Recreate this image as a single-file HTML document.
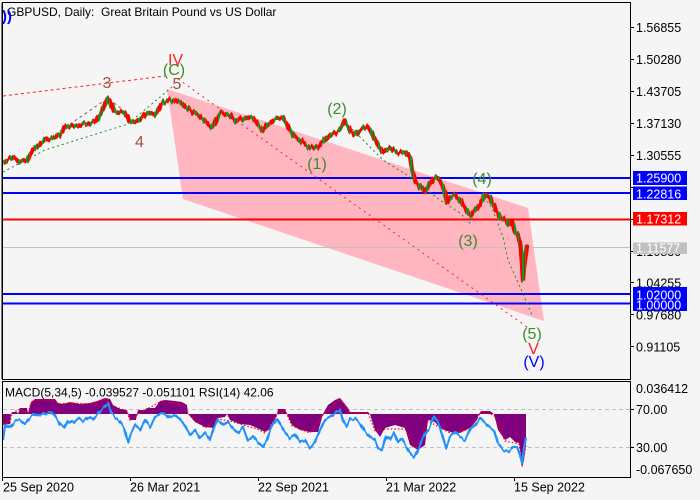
<!DOCTYPE html>
<html><head><meta charset="utf-8">
<style>
html,body{margin:0;padding:0;background:#f5f5f5;}
svg{display:block;}
text{font-family:"Liberation Sans",sans-serif;}
</style></head>
<body>
<svg width="700" height="500" viewBox="0 0 700 500">
<defs>
<pattern id="cp" patternUnits="userSpaceOnUse" x="0" y="0" width="16" height="500">
<rect x="0" y="0" width="2" height="500" fill="#ff0000"/>
<rect x="2" y="0" width="3" height="500" fill="#1f8f1f"/>
<rect x="5" y="0" width="1" height="500" fill="#ff0000"/>
<rect x="6" y="0" width="1" height="500" fill="#1f8f1f"/>
<rect x="7" y="0" width="3" height="500" fill="#ff0000"/>
<rect x="10" y="0" width="2" height="500" fill="#1f8f1f"/>
<rect x="12" y="0" width="1" height="500" fill="#ff0000"/>
<rect x="13" y="0" width="1" height="500" fill="#1f8f1f"/>
<rect x="14" y="0" width="2" height="500" fill="#ff0000"/>
</pattern>
<filter id="jit" filterUnits="userSpaceOnUse" x="0" y="0" width="700" height="500" color-interpolation-filters="sRGB">
<feTurbulence type="fractalNoise" baseFrequency="0.45 0.02" numOctaves="1" seed="3" result="t"/>
<feColorMatrix in="t" type="matrix" values="0 0 0 0 0.5  1 0 0 0 0  0 0 0 0 0  0 0 0 0 1" result="m"/>
<feDisplacementMap in="SourceGraphic" in2="m" scale="8" xChannelSelector="R" yChannelSelector="G"/>
</filter>
<filter id="jit2" filterUnits="userSpaceOnUse" x="0" y="380" width="700" height="100" color-interpolation-filters="sRGB">
<feTurbulence type="fractalNoise" baseFrequency="0.35 0.02" numOctaves="1" seed="7" result="t"/>
<feColorMatrix in="t" type="matrix" values="0 0 0 0 0.5  1 0 0 0 0  0 0 0 0 0  0 0 0 0 1" result="m"/>
<feDisplacementMap in="SourceGraphic" in2="m" scale="6" xChannelSelector="R" yChannelSelector="G"/>
</filter>
</defs>
<rect x="0" y="0" width="700" height="500" fill="#f5f5f5"/>
<!-- pink channel -->
<polygon points="167,89 528,208 544,321 183,199" fill="#ffb6c1"/>
<!-- horizontal lines -->
<g shape-rendering="crispEdges">
<rect x="3" y="177" width="627" height="2" fill="#0000ff"/>
<rect x="3" y="192" width="627" height="2" fill="#0000ff"/>
<rect x="3" y="218.5" width="627" height="2" fill="#ff0000"/>
<rect x="3" y="247" width="627" height="1" fill="#c0c0c0"/>
<rect x="3" y="293" width="627" height="2" fill="#0000ff"/>
<rect x="3" y="302.5" width="627" height="2" fill="#0000ff"/>
</g>
<!-- dashed wave lines -->
<g fill="none" stroke-width="1">
<polyline points="3,96 165,76" stroke="#ff2020" stroke-dasharray="3,3"/>
<polyline points="178,79 527,327" stroke="#ff2020" stroke-dasharray="2,4"/>
<polyline points="50,138 108,98 123,110" stroke="#a0503c" stroke-dasharray="3,3"/>
<polyline points="3,172 45,150 128,124 172,87" stroke="#228b22" stroke-dasharray="2,3"/>
<polyline points="345,122 383,160 410,177 440,200 460,213 470,223 482,195 492,208 503,237 508,260 520,287 532,315" stroke="#228b22" stroke-dasharray="2,3"/>
</g>
<!-- candles -->
<polyline fill="none" stroke="url(#cp)" stroke-width="4.5" stroke-linejoin="round" filter="url(#jit)" points="3,163 13,157 20,162 27,160 33,150 45,140 60,135 65,127 80,125 95,122 100,115 108,98 115,112 125,113 130,122 140,120 147,113 155,115 163,102 170,100 180,102 190,110 200,117 212,127 220,113 230,115 236,122 245,117 253,118 263,130 266,125 275,120 283,118 293,135 300,140 310,148 318,147 330,135 340,130 345,122 350,130 355,135 360,130 367,127 370,130 375,140 380,148 383,152 390,148 398,153 405,152 410,157 412,170 415,180 420,187 425,192 430,183 435,177 440,180 445,192 447,203 450,197 455,195 460,200 465,208 470,215 475,210 480,205 485,195 490,197 492,202 495,208 500,217 505,220 510,225 512,221 515,232 518,235 520,243 522,262 523,280 524,267 526,253 527,245"/>
<!-- wave labels -->
<g font-size="16" text-anchor="middle">
<text x="175.5" y="65" fill="#ff2020">IV</text>
<text x="174" y="75" fill="#3c8c28">(C)</text>
<text x="177" y="89" fill="#a0503c">5</text>
<text x="107" y="88" fill="#a0503c">3</text>
<text x="139.5" y="147" fill="#a0503c">4</text>
<text x="317" y="169" fill="#3c8c28">(1)</text>
<text x="337" y="114" fill="#3c8c28">(2)</text>
<text x="468" y="246" fill="#3c8c28">(3)</text>
<text x="482" y="184" fill="#3c8c28">(4)</text>
<text x="532" y="339" fill="#3c8c28">(5)</text>
<text x="533.5" y="354" fill="#ff2020">V</text>
<text x="534" y="367" fill="#0000ff">(V)</text>
</g>
<!-- title -->
<text x="7" y="16" font-size="12" fill="#000">GBPUSD, Daily:&#160; Great Britain Pound vs US Dollar</text>
<text x="2" y="21" font-size="15" fill="#0000ff" font-weight="bold">))</text>

<!-- indicator panel -->
<g shape-rendering="crispEdges">
<line x1="3" y1="409.5" x2="630" y2="409.5" stroke="#c0c0c0" stroke-dasharray="4,3"/>
<line x1="3" y1="447.5" x2="630" y2="447.5" stroke="#c0c0c0" stroke-dasharray="4,3"/>
</g>
<polygon fill="#800080" points="3,414 3,425 10,424 11,414 12,412 17,412 18,414 20,408 27,408 28,414 31,402 35,399 55,399 58,403 63,404 70,402 80,404 90,403 97,401 105,398 110,399 113,405 120,409 127,410 128,414 130,420 136,420 137,414 138,410 145,410 147,408 155,408 160,401 165,400 175,401 182,402 187,405 188,414 195,422 205,427 215,428 218,418 225,417 227,414 230,420 240,424 250,425 257,428 265,432 272,428 277,414 278,409 285,409 287,414 292,425 300,430 310,432 318,432 323,414 328,405 335,400 340,398 344,403 348,408 350,412 360,412 368,412 370,414 375,430 380,437 385,428 395,425 405,428 410,445 418,450 425,445 428,420 435,422 440,428 450,432 460,433 470,428 477,420 479,414 481,411 490,411 494,414 498,430 505,440 510,437 515,442 519,443 521,455 522,468 524,460 526,445 526,414"/>
<polyline fill="none" stroke="#ff0000" stroke-width="1.2" stroke-dasharray="1.5,2" points="3,424 10,423 12,413 20,409 28,413 31,403 35,400 55,400 58,404 70,403 90,404 105,399 113,406 127,411 130,421 137,415 147,409 160,402 182,403 188,413 205,428 218,419 230,421 257,429 265,433 277,415 285,410 292,426 310,433 323,415 340,399 350,413 368,413 375,431 385,429 405,429 418,451 428,421 450,433 470,429 481,412 494,415 505,441 519,444 522,466 526,446"/>
<polyline fill="none" stroke="#1e90ff" stroke-width="2.2" stroke-linejoin="round" filter="url(#jit2)" points="3,440 5,425 10,428 15,422 20,420 25,424 30,418 35,414 40,416 45,413 50,412 55,416 60,425 64,428 68,420 73,423 78,418 83,422 88,417 93,420 98,413 103,408 108,403 111,413 115,418 120,422 124,428 128,442 131,433 135,425 140,430 145,420 150,427 155,417 160,414 165,413 170,418 175,415 180,420 185,426 190,435 195,430 200,438 205,433 210,440 214,428 218,420 223,425 228,422 233,428 238,433 243,427 248,440 253,436 258,442 263,447 267,440 271,427 277,418 281,425 285,432 290,438 295,434 300,442 305,440 310,448 315,442 320,430 325,420 330,417 335,413 340,409 343,420 347,427 350,420 355,418 360,423 365,432 370,437 375,440 378,448 382,450 386,436 390,440 394,433 398,442 402,438 406,446 410,453 414,458 418,450 422,440 426,432 430,427 434,417 438,422 442,434 446,448 450,437 455,432 460,437 465,440 470,430 475,425 480,418 485,423 490,427 494,430 498,443 503,450 508,452 513,447 517,447 520,455 522,462 524,448 526,437"/>
<text x="5" y="396.5" font-size="12" fill="#000">MACD(5,34,5) -0.039527 -0.051101 RSI(14) 42.06</text>

<!-- frames -->
<g fill="none" stroke="#000" stroke-width="1" shape-rendering="crispEdges">
<rect x="2.5" y="2.5" width="628" height="377"/>
<rect x="2.5" y="381.5" width="628" height="96"/>
<line x1="2" y1="3" x2="2" y2="379"/>
</g>

<!-- right axis ticks -->
<g stroke="#000" stroke-width="1" shape-rendering="crispEdges">
<line x1="630" y1="27.5" x2="634" y2="27.5"/>
<line x1="630" y1="59.5" x2="634" y2="59.5"/>
<line x1="630" y1="91.5" x2="634" y2="91.5"/>
<line x1="630" y1="123.5" x2="634" y2="123.5"/>
<line x1="630" y1="155.5" x2="634" y2="155.5"/>
<line x1="630" y1="187.5" x2="634" y2="187.5"/>
<line x1="630" y1="219.5" x2="634" y2="219.5"/>
<line x1="630" y1="251.5" x2="634" y2="251.5"/>
<line x1="630" y1="282.5" x2="634" y2="282.5"/>
<line x1="630" y1="314.5" x2="634" y2="314.5"/>
<line x1="630" y1="346.5" x2="634" y2="346.5"/>
<line x1="630" y1="409.5" x2="634" y2="409.5"/>
<line x1="630" y1="447.5" x2="634" y2="447.5"/>
<line x1="2.5" y1="477" x2="2.5" y2="481"/>
<line x1="130.5" y1="477" x2="130.5" y2="481"/>
<line x1="258.5" y1="477" x2="258.5" y2="481"/>
<line x1="386.5" y1="477" x2="386.5" y2="481"/>
<line x1="514.5" y1="477" x2="514.5" y2="481"/>
</g>
<g font-size="12.5" fill="#000">
<text x="636" y="32">1.56855</text>
<text x="636" y="64">1.50280</text>
<text x="636" y="96">1.43705</text>
<text x="636" y="128">1.37130</text>
<text x="636" y="160">1.30555</text>
<text x="636" y="256">1.10830</text>
<text x="636" y="287.3">1.04255</text>
<text x="636" y="319.3">0.97680</text>
<text x="636" y="351.7">0.91105</text>
<text x="636" y="392.8">0.036412</text>
<text x="636" y="413.8">70.00</text>
<text x="636" y="451.8">30.00</text>
<text x="636" y="473.8">-0.067650</text>
</g>
<!-- price boxes -->
<g shape-rendering="crispEdges">
<rect x="633" y="171" width="54" height="14" fill="#0000ff"/>
<rect x="633" y="186.5" width="54" height="13.5" fill="#0000ff"/>
<rect x="633" y="212" width="54" height="13.5" fill="#ff0000"/>
<rect x="633" y="242.5" width="54" height="11.5" fill="#c0c0c0"/>
<rect x="633" y="287" width="54" height="24" fill="#0000ff"/>
</g>
<g font-size="12.5" fill="#ffffff">
<text x="636" y="182.7">1.25900</text>
<text x="636" y="198.3">1.22816</text>
<text x="636" y="223.3">1.17312</text>
<text x="636" y="252.5">1.11577</text>
<text x="636" y="299.3">1.02000</text>
<text x="636" y="309.5">1.00000</text>
</g>
<!-- x axis labels -->
<g font-size="12.5" fill="#000">
<text x="3" y="491.3">25 Sep 2020</text>
<text x="130" y="491.3">26 Mar 2021</text>
<text x="258" y="491.3">22 Sep 2021</text>
<text x="386" y="491.3">21 Mar 2022</text>
<text x="514" y="491.3">15 Sep 2022</text>
</g>
</svg>
</body></html>
